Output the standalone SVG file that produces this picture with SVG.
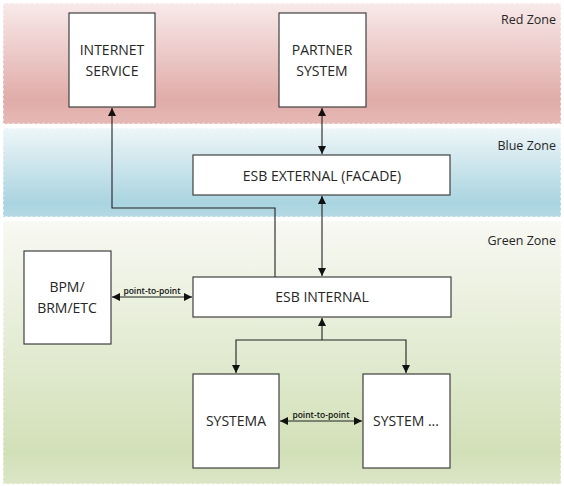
<svg xmlns="http://www.w3.org/2000/svg" width="564" height="486" viewBox="0 0 564 486">
<defs>
<linearGradient id="gRed" x1="0" y1="0" x2="0" y2="1">
<stop offset="0" stop-color="#f8eaea"/>
<stop offset="0.8" stop-color="#e0aca8"/>
<stop offset="1" stop-color="#e6b9b6"/>
</linearGradient>
<linearGradient id="gBlue" x1="0" y1="0" x2="0" y2="1">
<stop offset="0" stop-color="#eef6f8"/>
<stop offset="0.85" stop-color="#a9d4e0"/>
<stop offset="1" stop-color="#b6dae4"/>
</linearGradient>
<linearGradient id="gGreen" x1="0" y1="0" x2="0" y2="1">
<stop offset="0" stop-color="#f8f9f3"/>
<stop offset="0.88" stop-color="#d2e0b8"/>
<stop offset="1" stop-color="#dbe6c6"/>
</linearGradient>
<marker id="arr" viewBox="0 0 10 10" refX="10" refY="5" markerWidth="8" markerHeight="8" markerUnits="userSpaceOnUse" orient="auto-start-reverse">
<path d="M0,0 L10,5 L0,10 z" fill="#111"/>
</marker>
<style>
.zone{stroke:#ffffff;stroke-width:1;stroke-dasharray:3 2}
.node{fill:#ffffff;stroke:#404040;stroke-width:1.2}
.t{font-family:"Open Sans","Liberation Sans",sans-serif;font-size:14px;fill:#262626;text-anchor:middle}
.z{font-family:"Open Sans","Liberation Sans",sans-serif;font-size:12.5px;fill:#262626;text-anchor:end}
.p{font-family:"Open Sans","Liberation Sans",sans-serif;font-size:8.5px;font-weight:600;fill:#111;text-anchor:middle}
.c{fill:none;stroke:#222;stroke-width:1.1}
</style>
</defs>
<g id="zones">
<rect class="zone" x="3" y="3" width="558" height="121" fill="url(#gRed)"/>
<rect class="zone" x="3" y="128" width="558" height="89" fill="url(#gBlue)"/>
<rect class="zone" x="3" y="221" width="558" height="263" fill="url(#gGreen)"/>
<text class="z" x="556" y="24">Red Zone</text>
<text class="z" x="556" y="150">Blue Zone</text>
<text class="z" x="556" y="245">Green Zone</text>
</g>
<g id="connectors">
<path class="c" d="M275,277 V208 H112 V108" marker-end="url(#arr)"/>
<path class="c" d="M322,108 V154" marker-start="url(#arr)" marker-end="url(#arr)"/>
<path class="c" d="M322,196 V276" marker-start="url(#arr)" marker-end="url(#arr)"/>
<path class="c" d="M112,297 H192" marker-start="url(#arr)" marker-end="url(#arr)"/>
<path class="c" d="M322,340 V318" marker-end="url(#arr)"/>
<path class="c" d="M236,373 V340 H406 V373" marker-start="url(#arr)" marker-end="url(#arr)"/>
<path class="c" d="M280,421 H362" marker-start="url(#arr)" marker-end="url(#arr)"/>
<text class="p" x="152" y="294">point-to-point</text>
<text class="p" x="321" y="418">point-to-point</text>
</g>
<g id="internet-service">
<rect class="node" x="69" y="13" width="86" height="94"/>
<text class="t" x="112" y="55">INTERNET</text>
<text class="t" x="112" y="76">SERVICE</text>
</g>
<g id="partner-system">
<rect class="node" x="279" y="13" width="87" height="94"/>
<text class="t" x="322" y="55">PARTNER</text>
<text class="t" x="322" y="76">SYSTEM</text>
</g>
<g id="esb-external">
<rect class="node" x="193" y="155" width="257" height="40"/>
<text class="t" x="322" y="181">ESB EXTERNAL (FACADE)</text>
</g>
<g id="esb-internal">
<rect class="node" x="193" y="277" width="258" height="40"/>
<text class="t" x="322" y="302">ESB INTERNAL</text>
</g>
<g id="bpm">
<rect class="node" x="24" y="251" width="87" height="93"/>
<text class="t" x="67" y="292">BPM/</text>
<text class="t" x="67" y="313">BRM/ETC</text>
</g>
<g id="system-a">
<rect class="node" x="193" y="374" width="86" height="94"/>
<text class="t" x="236" y="426">SYSTEMA</text>
</g>
<g id="system-etc">
<rect class="node" x="363" y="374" width="87" height="94"/>
<text class="t" x="406" y="426">SYSTEM ...</text>
</g>
</svg>
